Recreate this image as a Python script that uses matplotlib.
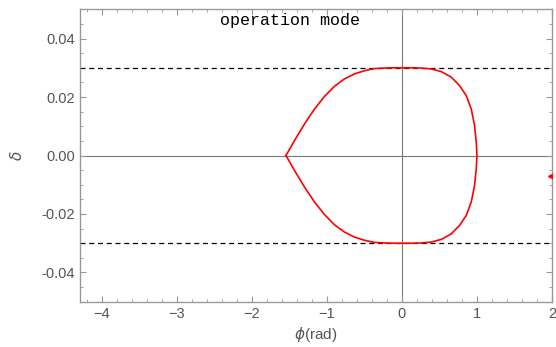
import numpy as np
import matplotlib
matplotlib.use("Agg")
from matplotlib import pyplot as plt
from matplotlib.ticker import MultipleLocator, FormatStrFormatter

# separatrix, upper half (phi in rad, delta)
phi_up = [-1.545, -1.432, -1.298, -1.165, -1.032, -0.898, -0.765, -0.632, -0.498,
          -0.365, -0.232, -0.10, 0.0, 0.12, 0.257, 0.39, 0.524, 0.657, 0.768,
          0.857, 0.924, 0.968, 0.991, 1.0]
delta_up = [0.0, 0.0051, 0.0108, 0.0159, 0.0202, 0.0237, 0.0262, 0.0279, 0.0290,
            0.02973, 0.0299, 0.03, 0.03, 0.03, 0.0299, 0.0296, 0.0287, 0.0268, 0.0239,
            0.0205, 0.0159, 0.0103, 0.0045, 0.0]

delta_max = 0.03
marker_phi = 2.0
marker_delta = -0.007

grey = "#555555"
plt.rcParams['font.family'] = ['Liberation Sans', 'DejaVu Sans']

fig = plt.figure(figsize=(5.56, 3.47), dpi=100)
ax = fig.add_axes([0.1439, 0.1305, 0.8489, 0.8427])

ax.axhline(0, color="#777777", lw=0.8, zorder=1)
ax.axvline(0, color="#777777", lw=0.8, zorder=1)
ax.axhline(delta_max, color="black", lw=0.9, ls=(0, (4, 3)), zorder=2)
ax.axhline(-delta_max, color="black", lw=0.9, ls=(0, (4, 3)), zorder=2)

phi = np.array(phi_up)
dl = np.array(delta_up)
ax.plot(np.concatenate([phi, phi[::-1]]), np.concatenate([dl, -dl[::-1]]),
        color="red", lw=1.2, zorder=3, solid_joinstyle="round")
ax.plot(marker_phi, marker_delta, marker="<", color="red", ms=6, zorder=4, clip_on=True)

ax.set_xlim(-4.29, 2)
ax.set_ylim(-0.05, 0.05)
ax.xaxis.set_major_locator(MultipleLocator(1))
ax.xaxis.set_minor_locator(MultipleLocator(0.2))
ax.yaxis.set_major_locator(MultipleLocator(0.02))
ax.yaxis.set_minor_locator(MultipleLocator(0.005))
ax.yaxis.set_major_formatter(FormatStrFormatter('%.2f'))

for s in ax.spines.values():
    s.set_color("#999999")
    s.set_linewidth(1.0)
ax.tick_params(which="both", direction="in", top=True, right=True,
               colors="#999999", labelcolor=grey, labelsize=10.5)
ax.tick_params(which="major", length=4, width=0.8)
ax.tick_params(which="minor", length=2, width=0.6)

ax.set_xlabel(r"$\phi$(rad)", color=grey, fontsize=11, labelpad=3)
ax.set_ylabel(r"$\delta$", color=grey, fontsize=11, labelpad=12)

fig.text(0.522, 0.942, "operation mode", family="Liberation Mono", fontsize=12,
         ha="center", va="center", color="black")

fig.savefig("out.png", dpi=100)
